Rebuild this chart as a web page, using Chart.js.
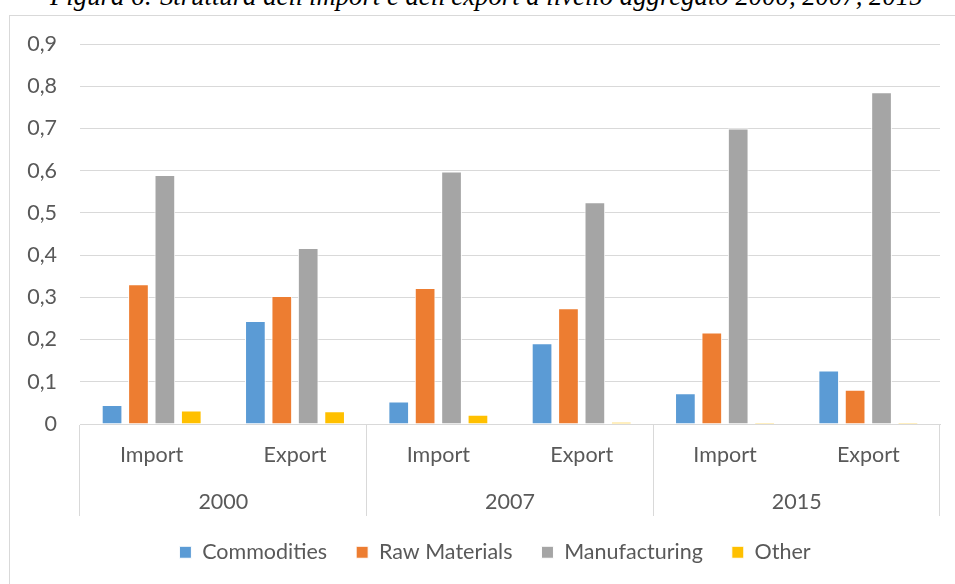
<!DOCTYPE html>
<html>
<head>
<meta charset="utf-8">
<script src="https://cdn.jsdelivr.net/npm/chart.js@4.4.1/dist/chart.umd.min.js"></script>
<style>
  html, body { margin: 0; padding: 0; background: #fff; width: 955px; height: 584px; overflow: hidden; }
  #title { position: absolute; left: 50px; white-space: nowrap; font-family: "Liberation Serif", serif; font-style: italic; color: #000; line-height: 1; }
  #frame { position: absolute; left: 9px; top: 15px; width: 1000px; height: 650px; border: 1px solid #d9d9d9; box-sizing: border-box; }
  #c { position: absolute; left: 0; top: 0; }
</style>
</head>
<body>
<div id="title">Figura 6: Struttura dell'import e dell'export a livello aggregato 2000, 2007, 2015</div>
<div id="frame"></div>
<canvas id="c" width="955" height="584"></canvas>
<script>
// ---- data ----
const categories = ['Import', 'Export', 'Import', 'Export', 'Import', 'Export'];
const years = ['2000', '2007', '2015'];
const seriesNames = ['Commodities', 'Raw Materials', 'Manufacturing', 'Other'];
const commodities   = [0.045, 0.244, 0.053, 0.191, 0.073, 0.127];
const rawMaterials  = [0.331, 0.303, 0.322, 0.274, 0.217, 0.081];
const manufacturing = [0.590, 0.417, 0.598, 0.525, 0.700, 0.786];
const other         = [0.032, 0.030, 0.022, 0.005, 0.003, 0.003];
const yTicks = [0, 0.1, 0.2, 0.3, 0.4, 0.5, 0.6, 0.7, 0.8, 0.9];

// ---- title fit ----
(function () {
  const t = document.getElementById('title');
  let F = 24;
  t.style.fontSize = F + 'px';
  const w = t.getBoundingClientRect().width;
  F = F * 873 / w;
  t.style.fontSize = F + 'px';
  t.style.top = (5 - 0.8375 * F) + 'px';
})();

const FONT = { family: 'Lato', size: 21.5 };
const TXT = '#595959';
const GRID = '#d9d9d9';

const yearLabels = {
  id: 'yearLabels',
  afterDraw(chart) {
    const x = chart.scales.x;
    const ctx = chart.ctx;
    ctx.save();
    ctx.font = FONT.size + 'px ' + FONT.family;
    ctx.fillStyle = TXT;
    ctx.textAlign = 'center';
    ctx.textBaseline = 'alphabetic';
    years.forEach((y, i) => {
      const cx = (x.getPixelForValue(2 * i) + x.getPixelForValue(2 * i + 1)) / 2;
      ctx.fillText(y, cx, x.top + 85);
    });
    ctx.restore();
  }
};

// centre the legend like the original (centred on the whole chart frame)
const legendShift = {
  id: 'legendShift',
  afterLayout(chart) {
    const l = chart.legend;
    if (!l) return;
    const d = 495 - (l.left + l.right) / 2;
    l.left += d; l.right += d;
  }
};

const colors = ['#5B9BD5', '#ED7D31', '#A5A5A5', '#FFC000'];
const values = [commodities, rawMaterials, manufacturing, other];

new Chart(document.getElementById('c'), {
  type: 'bar',
  data: {
    labels: categories,
    datasets: seriesNames.map((n, i) => ({
      label: n,
      data: values[i],
      backgroundColor: colors[i],
      borderColor: '#ffffff',
      borderWidth: 1,
      categoryPercentage: 0.737,
      barPercentage: 0.784
    }))
  },
  options: {
    responsive: false,
    animation: false,
    devicePixelRatio: 1,
    layout: { padding: { top: 44, left: 27, right: 15, bottom: 11 } },
    plugins: {
      title: { display: false },
      tooltip: { enabled: false },
      legend: {
        position: 'bottom',
        labels: {
          font: FONT,
          color: TXT,
          boxWidth: 12,
          boxHeight: 12,
          padding: 29,
          useBorderRadius: false
        }
      }
    },
    scales: {
      x: {
        offset: true,
        afterFit(s) { s.height = 88.5; },
        grid: {
          offset: true,
          drawOnChartArea: false,
          drawTicks: true,
          tickLength: 92,
          color: (c) => (c.index === undefined || c.index % 2 === 0) ? GRID : 'rgba(0,0,0,0)'
        },
        border: { display: true, color: GRID },
        ticks: { font: FONT, color: TXT, padding: -74, autoSkip: false, maxRotation: 0 }
      },
      y: {
        min: 0,
        max: 0.9,
        afterFit(s) { s.width = 53; },
        afterBuildTicks(s) { s.ticks = yTicks.map(v => ({ value: v })); },
        grid: { color: GRID, drawTicks: false },
        border: { display: false },
        ticks: {
          font: FONT,
          color: TXT,
          padding: 23,
          callback: (v) => v === 0 ? '0' : Number(v).toFixed(1).replace('.', ',')
        }
      }
    }
  },
  plugins: [yearLabels, legendShift]
});
</script>
</body>
</html>
